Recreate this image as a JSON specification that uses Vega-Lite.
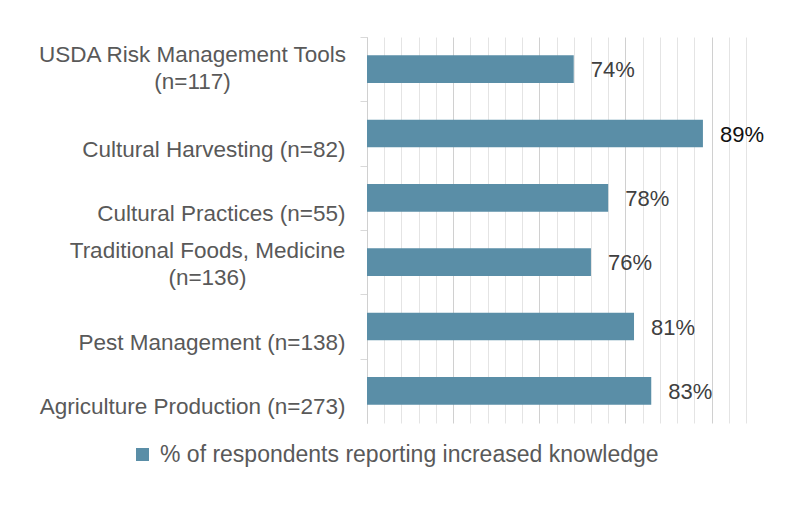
{
  "$schema": "https://vega.github.io/schema/vega-lite/v6.json",
  "autosize": "none",
  "width": 379,
  "height": 386,
  "padding": {"left": 367, "top": 37, "right": 41, "bottom": 85},
  "background": "white",
  "config": {
    "view": {"stroke": null},
    "font": "Liberation Sans"
  },
  "data": {
    "values": [
      {"label": "USDA Risk Management Tools (n=117)", "pct": 0.74},
      {"label": "Cultural Harvesting (n=82)", "pct": 0.89},
      {"label": "Cultural Practices (n=55)", "pct": 0.78},
      {"label": "Traditional Foods, Medicine (n=136)", "pct": 0.76},
      {"label": "Pest Management (n=138)", "pct": 0.81},
      {"label": "Agriculture Production (n=273)", "pct": 0.83}
    ]
  },
  "encoding": {
    "y": {
      "field": "label",
      "type": "nominal",
      "sort": null,
      "scale": {"paddingInner": 0.57, "paddingOuter": 0.285},
      "axis": {
        "title": null,
        "labelExpr": "length(datum.label) > 30 ? split(replace(datum.label, ' (', '|('), '|') : datum.label",
        "labelFont": "Liberation Sans",
        "labelFontSize": 22.5,
        "labelColor": "#595959",
        "labelLimit": 0,
        "labelLineHeight": 27,
        "labelBaseline": "middle",
        "labelAlign": {"condition": {"test": "length(datum.value) > 30", "value": "center"}, "value": "right"},
        "labelPadding": {"condition": [
          {"test": "datum.value == 'USDA Risk Management Tools (n=117)'", "value": 168},
          {"test": "datum.value == 'Traditional Foods, Medicine (n=136)'", "value": 153}
        ], "value": 15},
        "tickOffset": -32.17,
        "labelOffset": {"condition": [
          {"test": "datum.value == 'USDA Risk Management Tools (n=117)'", "value": 17.7},
          {"test": "datum.value == 'Traditional Foods, Medicine (n=136)'", "value": 21}
        ], "value": 48.2},
        "tickSize": 7,
        "tickColor": "#d9d9d9",
        "domainColor": "#d0d0d0",
        "grid": false
      }
    },
    "x": {
      "field": "pct",
      "type": "quantitative",
      "scale": {"domain": [0.5, 0.94], "zero": false, "nice": false},
      "axis": {
        "title": null,
        "labels": false,
        "ticks": false,
        "domain": false,
        "grid": true,
        "values": [0.5, 0.52, 0.54, 0.56, 0.58, 0.6, 0.62, 0.64, 0.66, 0.68, 0.7, 0.72, 0.74, 0.76, 0.78, 0.8, 0.82, 0.84, 0.86, 0.88, 0.9, 0.92, 0.94],
        "gridColor": {"condition": {"test": "round(datum.value * 100) % 10 == 0", "value": "#d0d0d0"}, "value": "#e4e4e4"},
        "gridWidth": 1
      }
    }
  },
  "layer": [
    {
      "mark": {"type": "bar", "color": "#5A8EA7"},
      "encoding": {
        "x2": {"datum": 0.5},
        "color": {
          "datum": "% of respondents reporting increased knowledge",
          "type": "nominal",
          "scale": {"range": ["#5A8EA7"]},
          "legend": {
            "title": null,
            "orient": "none",
            "legendX": -236,
            "legendY": 406,
            "padding": 0,
            "symbolType": "square",
            "symbolSize": 169,
            "symbolStrokeWidth": 0,
            "labelFont": "Liberation Sans",
            "labelFontSize": 23,
            "labelColor": "#595959",
            "labelOffset": 6,
            "labelLimit": 0
          }
        }
      }
    },
    {
      "mark": {"type": "text", "align": "left", "baseline": "middle", "dx": 17, "dy": 1, "fontSize": 22, "font": "Liberation Sans"},
      "encoding": {
        "text": {"field": "pct", "type": "quantitative", "format": ".0%"},
        "color": {"condition": {"test": "datum.pct == 0.89", "value": "#111111"}, "value": "#404040"}
      }
    }
  ]
}
